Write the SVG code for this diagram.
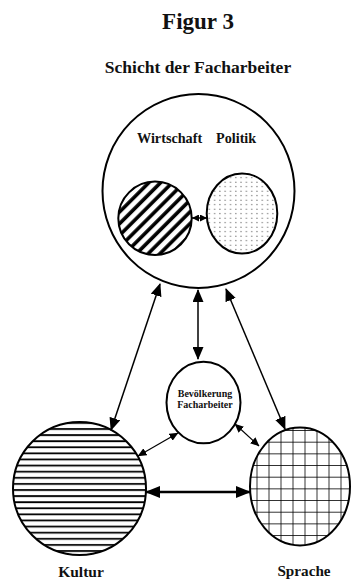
<svg xmlns="http://www.w3.org/2000/svg" width="351" height="581" viewBox="0 0 351 581">
<style>
.t{font-family:"Liberation Serif","Times New Roman",serif;font-weight:bold;fill:#111}
.c{stroke:#000;stroke-width:2}
.ln{stroke:#000;fill:none}
</style>
<defs>
<marker id="ah" viewBox="0 0 13 11" refX="12" refY="5.5" markerWidth="13" markerHeight="11" markerUnits="userSpaceOnUse" orient="auto-start-reverse"><path d="M0,0 L13,5.5 L0,11 z"/></marker>
<marker id="ahb" viewBox="0 0 15 12" refX="14" refY="6" markerWidth="15" markerHeight="12" markerUnits="userSpaceOnUse" orient="auto-start-reverse"><path d="M0,0 L15,6 L0,12 z"/></marker>
<marker id="ahs" viewBox="0 0 9 8" refX="8.5" refY="4" markerWidth="9" markerHeight="8" markerUnits="userSpaceOnUse" orient="auto-start-reverse"><path d="M0,0 L9,4 L0,8 z"/></marker>
<marker id="aht" viewBox="0 0 7 7" refX="7" refY="3.5" markerWidth="7" markerHeight="7" markerUnits="userSpaceOnUse" orient="auto-start-reverse"><path d="M0,0 L7,3.5 L0,7 z"/></marker>
<pattern id="diag" width="8.3" height="8.3" patternUnits="userSpaceOnUse" patternTransform="rotate(-45)"><rect width="8.3" height="8.3" fill="#fff"/><line x1="0" y1="2" x2="8.3" y2="2" stroke="#000" stroke-width="3.6"/></pattern>
<pattern id="dots" width="5.3" height="4.5" patternUnits="userSpaceOnUse"><rect width="5.3" height="4.5" fill="#fff"/><circle cx="2.6" cy="2.2" r="0.55" fill="#333"/></pattern>
<pattern id="hor" width="10" height="6.1" patternUnits="userSpaceOnUse" y="1"><rect width="10" height="6.1" fill="#fff"/><line x1="0" y1="1" x2="10" y2="1" stroke="#000" stroke-width="1.8"/></pattern>
<pattern id="grid" width="12" height="11.67" patternUnits="userSpaceOnUse" x="4.5" y="9.9"><rect width="12" height="11.67" fill="#fff"/><line x1="0" y1="0" x2="0" y2="11.67" stroke="#000" stroke-width="1.6"/><line x1="0" y1="0" x2="12" y2="0" stroke="#000" stroke-width="1.6"/></pattern>
</defs>
<rect width="351" height="581" fill="#fff"/>
<text class="t" x="198" y="29" font-size="23" text-anchor="middle">Figur 3</text>
<text class="t" x="198" y="73" font-size="17.5" text-anchor="middle">Schicht der Facharbeiter</text>

<g id="schicht">
<ellipse class="c" cx="198.5" cy="191" rx="96" ry="97" fill="#fff"/>
<text class="t" x="137" y="143" font-size="14.2">Wirtschaft</text>
<text class="t" x="216" y="143" font-size="14.2">Politik</text>
</g>
<g id="wirtschaft"><ellipse class="c" cx="155" cy="218.3" rx="36.7" ry="36.7" fill="url(#diag)"/></g>
<g id="politik"><ellipse class="c" cx="242" cy="213.5" rx="35.3" ry="40" fill="url(#dots)"/></g>
<g id="bevoelkerung">
<ellipse class="c" cx="203.5" cy="402.5" rx="37" ry="40.8" fill="#fff"/>
<text class="t" x="205" y="397" font-size="10" text-anchor="middle">Bevölkerung</text>
<text class="t" x="205" y="408" font-size="10" text-anchor="middle">Facharbeiter</text>
</g>
<g id="kultur">
<circle class="c" cx="79.5" cy="488.5" r="66.5" fill="url(#hor)"/>
<text class="t" x="81" y="577" font-size="15.5" text-anchor="middle">Kultur</text>
</g>
<g id="sprache">
<ellipse class="c" cx="300" cy="486.5" rx="50" ry="59" fill="url(#grid)"/>
<text class="t" x="304" y="576" font-size="15.2" text-anchor="middle">Sprache</text>
</g>

<g id="connectors">
<line class="ln" x1="160" y1="284" x2="111" y2="430" stroke-width="1.5" marker-start="url(#ah)" marker-end="url(#ah)"/>
<line class="ln" x1="198" y1="290" x2="198" y2="359" stroke-width="1.5" marker-start="url(#ah)" marker-end="url(#ah)"/>
<line class="ln" x1="226" y1="289" x2="285" y2="429" stroke-width="1.5" marker-start="url(#ah)" marker-end="url(#ah)"/>
<line class="ln" x1="178" y1="433" x2="138" y2="456" stroke-width="1.2" marker-start="url(#ahs)" marker-end="url(#ahs)"/>
<line class="ln" x1="235" y1="424" x2="259" y2="446" stroke-width="1.2" marker-start="url(#ahs)" marker-end="url(#ahs)"/>
<line class="ln" x1="146" y1="492" x2="250" y2="492" stroke-width="2.4" marker-start="url(#ahb)" marker-end="url(#ahb)"/>
<line class="ln" x1="192" y1="218" x2="207" y2="218" stroke-width="1.5" marker-start="url(#aht)" marker-end="url(#aht)"/>
</g>
</svg>
